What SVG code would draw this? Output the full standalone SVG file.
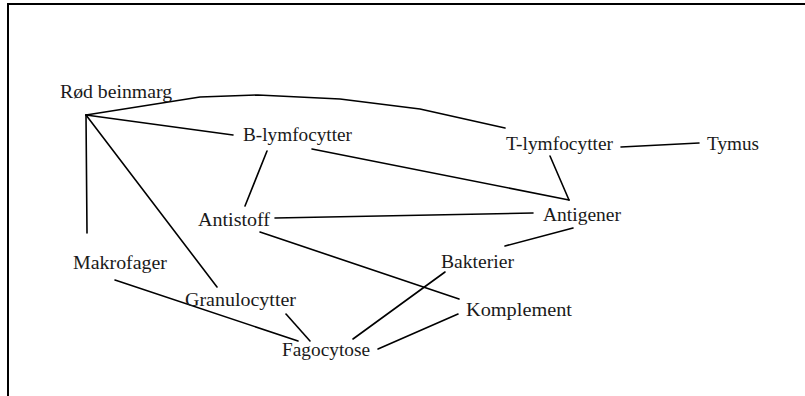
<svg xmlns="http://www.w3.org/2000/svg" width="805" height="396" viewBox="0 0 805 396">
<style>
.t{font-family:"Liberation Serif","DejaVu Serif",serif;font-size:18px;fill:#1a1a1a}
.c line,.c polyline{stroke:#000;stroke-width:1.6;fill:none;stroke-linecap:round;stroke-linejoin:round}
.frame{stroke:#000;stroke-width:2;fill:none}
</style>
<rect width="805" height="396" fill="#fff"/>
<polyline class="frame" points="8,396 8,4 805,4"/>
<g class="c" id="connectors">
<polyline points="86,115 200,97 258,95 340,99 420,109 505,128"/>
<line x1="86" y1="115" x2="233" y2="135"/>
<line x1="86" y1="115" x2="87" y2="233"/>
<line x1="86" y1="115" x2="217" y2="287"/>
<line x1="267" y1="151" x2="245" y2="206"/>
<line x1="312" y1="149" x2="569" y2="200"/>
<line x1="550" y1="156" x2="569" y2="200"/>
<line x1="621" y1="147" x2="699" y2="143"/>
<line x1="275" y1="218" x2="533" y2="213"/>
<line x1="573" y1="228" x2="505" y2="246"/>
<line x1="260" y1="232" x2="459" y2="299"/>
<line x1="445" y1="272" x2="353" y2="339"/>
<line x1="458" y1="314" x2="378" y2="349"/>
<line x1="115" y1="280" x2="298" y2="341"/>
<line x1="286" y1="314" x2="310" y2="341"/>
</g>
<g id="rod-beinmarg"><text class="t" x="60" y="98" textLength="112" lengthAdjust="spacingAndGlyphs">Rød beinmarg</text></g>
<g id="b-lymfocytter"><text class="t" x="243" y="141" textLength="109" lengthAdjust="spacingAndGlyphs">B-lymfocytter</text></g>
<g id="t-lymfocytter"><text class="t" x="506" y="150" textLength="107" lengthAdjust="spacingAndGlyphs">T-lymfocytter</text></g>
<g id="tymus"><text class="t" x="707" y="150" textLength="52" lengthAdjust="spacingAndGlyphs">Tymus</text></g>
<g id="antistoff"><text class="t" x="198" y="226" textLength="72" lengthAdjust="spacingAndGlyphs">Antistoff</text></g>
<g id="antigener"><text class="t" x="543" y="221" textLength="78" lengthAdjust="spacingAndGlyphs">Antigener</text></g>
<g id="bakterier"><text class="t" x="441" y="268" textLength="73" lengthAdjust="spacingAndGlyphs">Bakterier</text></g>
<g id="makrofager"><text class="t" x="73" y="269" textLength="94" lengthAdjust="spacingAndGlyphs">Makrofager</text></g>
<g id="granulocytter"><text class="t" x="185" y="306" textLength="111" lengthAdjust="spacingAndGlyphs">Granulocytter</text></g>
<g id="fagocytose"><text class="t" x="282" y="356" textLength="88" lengthAdjust="spacingAndGlyphs">Fagocytose</text></g>
<g id="komplement"><text class="t" x="466" y="316" textLength="106" lengthAdjust="spacingAndGlyphs">Komplement</text></g>
</svg>
